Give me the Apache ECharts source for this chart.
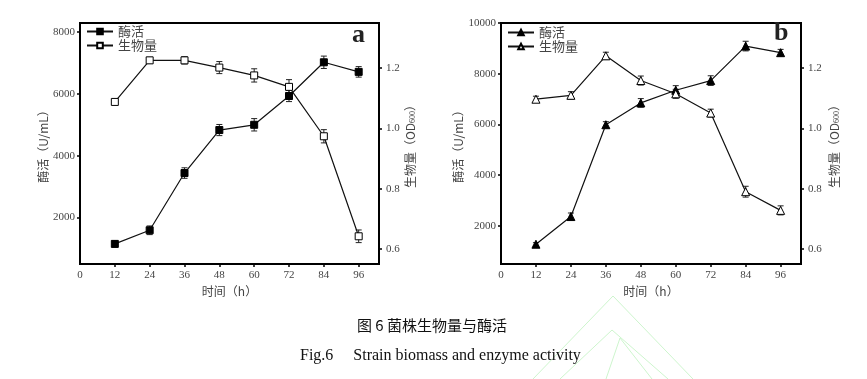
<!DOCTYPE html>
<html>
<head>
<meta charset="utf-8">
<script src="https://cdn.jsdelivr.net/npm/echarts@6/dist/echarts.min.js"></script>
<style>html,body{margin:0;padding:0;background:#fff}#c{width:867px;height:379px}</style>
</head>
<body>
<div id="c"></div>
<script>
// ---- data ----
var hours = [12, 24, 36, 48, 60, 72, 84, 96];
var xTicks = [0, 12, 24, 36, 48, 60, 72, 84, 96];
var enzymeTicksA = [2000, 4000, 6000, 8000];
var enzymeTicksB = [2000, 4000, 6000, 8000, 10000];
var odTicks = [0.6, 0.8, 1.0, 1.2];

var enzymeA = [1150, 1590, 3440, 4830, 5000, 5930, 7020, 6710];
var enzymeAErr = [100, 140, 170, 180, 200, 180, 200, 170];
var biomassA = [1.088, 1.226, 1.226, 1.202, 1.176, 1.138, 0.974, 0.642];
var biomassAErr = [0.006, 0.01, 0.012, 0.02, 0.022, 0.024, 0.022, 0.021];

var enzymeB = [1280, 2370, 5990, 6850, 7350, 7730, 9090, 8830];
var enzymeBErr = [60, 140, 120, 170, 180, 190, 190, 130];
var biomassB = [1.097, 1.110, 1.241, 1.159, 1.115, 1.051, 0.790, 0.728];
var biomassBErr = [0.01, 0.012, 0.012, 0.015, 0.015, 0.013, 0.018, 0.015];

var SERIF = '"Liberation Serif", "Noto Sans CJK SC", serif';
var CJK = '"Noto Sans CJK SC", sans-serif';
var TXT = '#444';

function pts(ys) { return hours.map(function (h, i) { return [h, ys[i]]; }); }
function errPts(ys, es) { return hours.map(function (h, i) { return [h, ys[i], es[i]]; }); }

function errRender(params, api) {
  var x = api.value(0), y = api.value(1), e = api.value(2);
  var lo = api.coord([x, y - e]), hi = api.coord([x, y + e]);
  var st = { stroke: '#222', lineWidth: 1 };
  return {
    type: 'group',
    children: [
      { type: 'line', shape: { x1: lo[0], y1: lo[1], x2: hi[0], y2: hi[1] }, style: st },
      { type: 'line', shape: { x1: lo[0] - 3, y1: lo[1], x2: lo[0] + 3, y2: lo[1] }, style: st },
      { type: 'line', shape: { x1: hi[0] - 3, y1: hi[1], x2: hi[0] + 3, y2: hi[1] }, style: st }
    ]
  };
}

function plain(v) { return String(v); }

function xAxis(gi) {
  return {
    type: 'value', gridIndex: gi, min: 0, max: 103,
    name: '时间（h）', nameLocation: 'middle', nameGap: 21,
    nameTextStyle: { fontFamily: CJK, fontSize: 12, color: TXT },
    axisLine: { show: true, lineStyle: { color: '#000', width: 2 } },
    axisTick: { show: true, customValues: xTicks.slice(1), length: 3, inside: false, lineStyle: { color: '#000', width: 1.5 } },
    axisLabel: { customValues: xTicks, margin: 6, fontFamily: SERIF, fontSize: 11, color: TXT, formatter: plain },
    splitLine: { show: false }
  };
}
function yLeft(gi, max, ticks, gap) {
  return {
    type: 'value', gridIndex: gi, min: 500, max: max, position: 'left',
    name: '酶活（U/mL）', nameLocation: 'middle', nameGap: gap, nameRotate: 90,
    nameTextStyle: { fontFamily: CJK, fontSize: 12, color: TXT },
    axisLine: { show: true, lineStyle: { color: '#000', width: 2 } },
    axisTick: { show: true, customValues: ticks, length: 3, lineStyle: { color: '#000', width: 1.5 } },
    axisLabel: { customValues: ticks, margin: 5, fontFamily: SERIF, fontSize: 11, color: TXT, formatter: plain },
    splitLine: { show: false }
  };
}
function yRight(gi, gap) {
  return {
    type: 'value', gridIndex: gi, min: 0.55, max: 1.35, position: 'right',
    name: '{n|生物量（OD}{s|600}{n|）}', nameLocation: 'middle', nameGap: gap, nameRotate: 90,
    nameTextStyle: {
      fontFamily: CJK, fontSize: 12, color: TXT,
      rich: {
        n: { fontFamily: CJK, fontSize: 12, color: TXT, verticalAlign: 'middle' },
        s: { fontFamily: SERIF, fontSize: 8, color: TXT, verticalAlign: 'bottom', padding: [6, 0, 0, 0] }
      }
    },
    axisLine: { show: true, lineStyle: { color: '#000', width: 2 } },
    axisTick: { show: true, customValues: odTicks, length: 3, lineStyle: { color: '#000', width: 1.5 } },
    axisLabel: { customValues: odTicks, margin: 7, fontFamily: SERIF, fontSize: 11, color: TXT,
      formatter: function (v) { return v.toFixed(1); } },
    splitLine: { show: false }
  };
}

function lineSeries(name, xi, yi, data, symbol, size, filled) {
  return {
    type: 'line', name: name, xAxisIndex: xi, yAxisIndex: yi, data: data,
    symbol: symbol, symbolSize: size, z: 5,
    lineStyle: { color: '#111', width: 1.2 },
    itemStyle: filled ? { color: '#000', borderColor: '#000', borderWidth: 1 }
                      : { color: '#fff', borderColor: '#000', borderWidth: 1 },
    emphasis: { disabled: true }, animation: false
  };
}
function errSeries(xi, yi, data) {
  return { type: 'custom', xAxisIndex: xi, yAxisIndex: yi, data: data, renderItem: errRender, z: 3, animation: false, silent: true };
}

var legendBase = {
  orient: 'vertical', itemWidth: 26, itemHeight: 7, itemGap: 1,
  textStyle: { fontFamily: CJK, fontSize: 13, color: TXT },
  formatter: function (n) { return n.slice(1); },
  selectedMode: false
};

var option = {
  backgroundColor: '#fff',
  animation: false,
  grid: [
    { left: 80, right: 488, top: 23, bottom: 115, show: true, borderColor: '#000', borderWidth: 2 },
    { left: 501, right: 66, top: 23, bottom: 115, show: true, borderColor: '#000', borderWidth: 2 }
  ],
  legend: [
    Object.assign({ left: 81, top: 20, data: ['a酶活', 'a生物量'] }, legendBase),
    Object.assign({ left: 502, top: 21, data: ['b酶活', 'b生物量'] }, legendBase)
  ],
  xAxis: [xAxis(0), xAxis(1)],
  yAxis: [yLeft(0, 8290, enzymeTicksA, 30), yRight(0, 24), yLeft(1, 10000, enzymeTicksB, 32), yRight(1, 26)],
  series: [
    errSeries(0, 0, errPts(enzymeA, enzymeAErr)),
    errSeries(0, 1, errPts(biomassA, biomassAErr)),
    lineSeries('a酶活', 0, 0, pts(enzymeA), 'rect', 7, true),
    lineSeries('a生物量', 0, 1, pts(biomassA), 'rect', 7, false),
    errSeries(1, 2, errPts(enzymeB, enzymeBErr)),
    errSeries(1, 3, errPts(biomassB, biomassBErr)),
    lineSeries('b酶活', 1, 2, pts(enzymeB), 'triangle', 8, true),
    lineSeries('b生物量', 1, 3, pts(biomassB), 'triangle', 8, false)
  ],
  graphic: [
    { type: 'text', left: 352, top: 22, style: { text: 'a', font: 'bold 26px "Liberation Serif", serif', fill: '#222' } },
    { type: 'text', left: 774, top: 20, style: { text: 'b', font: 'bold 26px "Liberation Serif", serif', fill: '#222' } },
    { type: 'text', x: 432, y: 325, style: { text: '图 6 菌株生物量与酶活', font: '15px "Noto Sans CJK SC", sans-serif', fill: '#111', align: 'center', verticalAlign: 'middle' } },
    { type: 'text', x: 300, y: 356, style: { text: 'Fig.6     Strain biomass and enzyme activity', font: '16px "Liberation Serif", serif', fill: '#111', align: 'left', verticalAlign: 'middle' } },
    { type: 'polyline', silent: true, z: -1, shape: { points: [[533, 379], [613, 296], [693, 379]] }, style: { stroke: '#cdf5cd', lineWidth: 1, fill: null } },
    { type: 'polyline', silent: true, z: -1, shape: { points: [[560, 379], [612, 330], [668, 379]] }, style: { stroke: '#cdf5cd', lineWidth: 1, fill: null } },
    { type: 'polyline', silent: true, z: -1, shape: { points: [[606, 379], [620, 338], [652, 379]] }, style: { stroke: '#cdf5cd', lineWidth: 1, fill: null } }
  ]
};

var chart = echarts.init(document.getElementById('c'), null, { renderer: 'canvas' });
chart.setOption(option);
</script>
</body>
</html>
